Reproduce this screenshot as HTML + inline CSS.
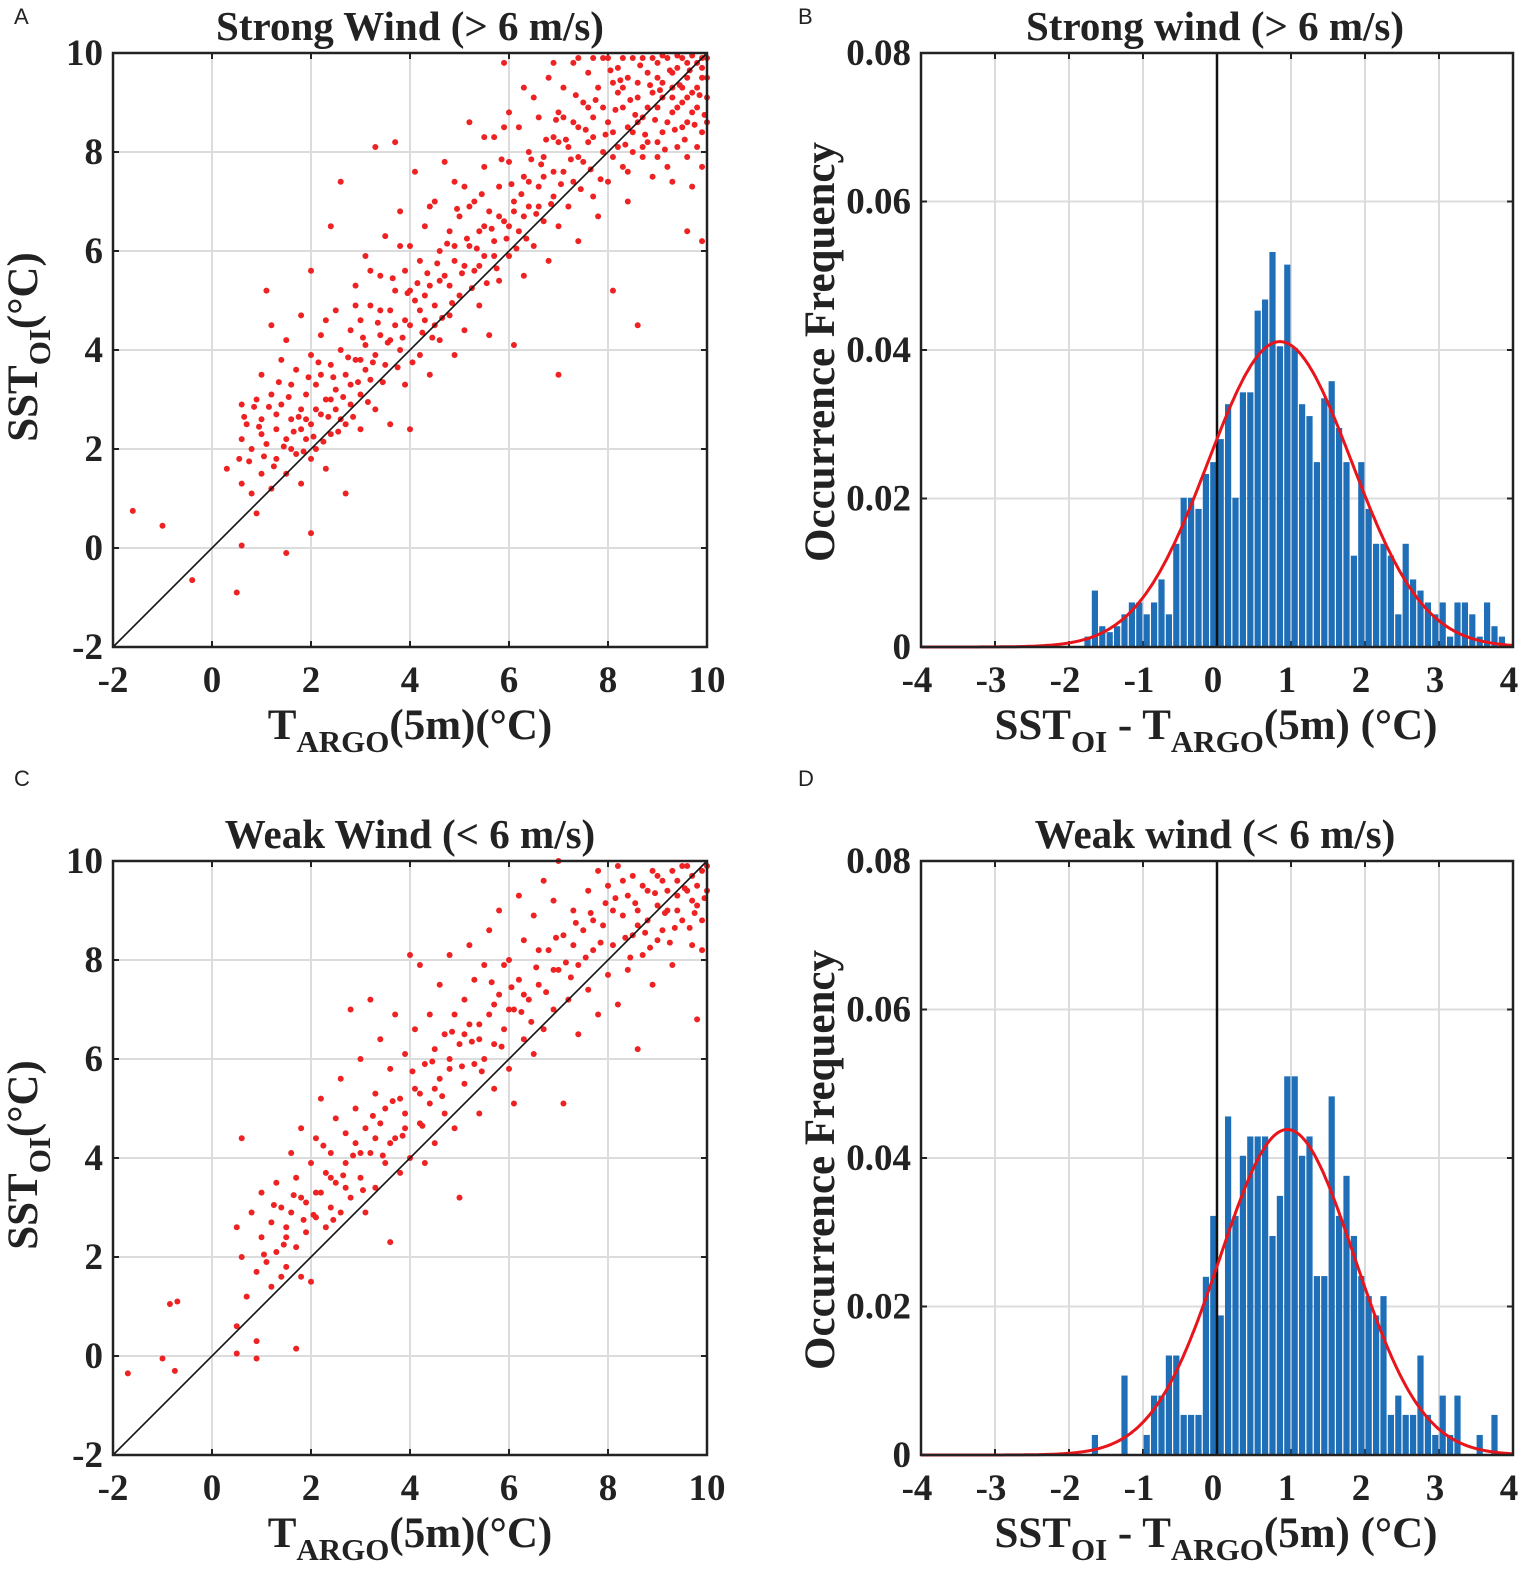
<!DOCTYPE html>
<html><head><meta charset="utf-8"><style>
html,body{margin:0;padding:0;background:#fff;}
svg{display:block;}
text{font-family:"Liberation Serif",serif;font-weight:bold;fill:#222;}
.lt{font-family:"Liberation Sans",sans-serif;font-weight:normal;fill:#222;}
</style></head><body>
<svg id="fig" width="1535" height="1578" viewBox="0 0 1535 1578" xmlns="http://www.w3.org/2000/svg"></svg>
<script>
// ---------- DATA ----------
const scatterTicks = [-2, 0, 2, 4, 6, 8, 10];
const histXTicks = [-4, -3, -2, -1, 0, 1, 2, 3, 4];
const histYTicks = [0, 0.02, 0.04, 0.06, 0.08];
const histYTickLabels = ["0", "0.02", "0.04", "0.06", "0.08"];
const binWidth = 0.1;

const strongPts = "-1.6,0.75 -1,0.45 -0.4,-0.65 0.5,-0.9 0.3,1.6 0.6,0.05 0.6,1.3 0.55,1.8 0.6,2.2 0.6,2.9 0.7,2.5 0.8,1.1 0.8,2.0 0.9,3.0 0.9,0.7 1.0,1.5 1.0,2.6 1.0,3.5 1.1,2.1 1.1,5.2 1.2,1.2 1.2,3.1 1.2,4.5 1.3,2.4 1.3,1.8 1.4,2.9 1.4,3.8 1.5,-0.1 1.5,1.5 1.5,2.2 1.5,4.2 1.6,3.3 1.6,2.6 1.7,1.9 1.7,3.6 1.8,2.8 1.8,4.7 1.8,1.3 1.9,2.2 1.9,3.1 2.0,0.3 2.0,1.8 2.0,2.5 2.0,3.9 2.0,5.6 2.1,3.3 2.1,2.0 2.2,4.3 2.2,2.7 2.3,3.0 2.3,1.6 2.4,3.7 2.4,2.3 2.4,6.5 2.5,4.8 2.5,3.2 2.6,2.6 2.6,4.0 2.6,7.4 2.7,3.5 2.7,1.1 2.8,4.4 2.8,2.9 2.9,3.8 2.9,5.3 3.0,3.1 3.0,4.6 3.0,2.4 3.1,5.9 3.1,4.1 3.2,3.4 3.2,4.9 3.3,8.1 3.3,2.8 3.4,4.3 3.4,5.5 3.5,3.7 3.5,6.3 3.6,4.8 3.6,2.5 3.7,8.2 3.7,5.2 3.8,4.0 3.8,6.8 3.9,3.3 3.9,5.6 4.0,4.5 4.0,6.1 4.0,2.4 4.1,7.6 4.1,5.0 4.2,3.9 4.2,5.8 4.3,4.6 4.3,6.5 4.4,5.3 4.4,3.5 4.5,7.0 4.5,4.9 4.6,6.0 4.6,4.2 4.7,5.5 4.7,7.8 4.8,6.4 4.8,4.7 4.9,5.8 4.9,3.9 5.0,6.7 5.0,5.1 5.1,7.3 5.1,4.4 5.2,6.1 5.2,8.6 5.3,5.6 5.3,7.0 5.4,4.9 5.4,6.4 5.5,7.7 5.5,5.9 5.6,6.8 5.6,4.3 5.7,8.3 5.7,6.2 5.8,7.3 5.8,5.4 5.9,6.6 5.9,9.8 6.0,7.8 6.0,5.9 6.1,7.0 6.1,4.1 6.2,8.5 6.2,6.4 6.3,7.5 6.3,5.5 6.4,8.0 6.4,6.9 6.5,9.1 6.5,6.1 6.6,7.3 6.6,8.7 6.7,6.6 6.7,7.9 6.8,9.5 6.8,5.8 6.9,8.3 6.9,7.1 7.0,8.8 7.0,6.5 7.0,3.5 7.1,7.6 7.1,9.3 7.2,8.1 7.2,6.9 7.3,9.8 7.3,7.4 7.4,8.5 7.4,6.2 7.5,9.0 7.5,7.8 7.6,8.2 7.6,9.6 7.7,7.1 7.7,8.7 7.8,9.3 7.8,6.7 7.9,8.0 7.9,9.9 8.0,8.6 8.0,7.4 8.1,9.4 8.1,5.2 8.2,8.1 8.2,9.7 8.3,7.7 8.3,8.9 8.4,9.5 8.4,7.0 8.5,8.4 8.5,9.9 8.6,4.5 8.6,9.1 8.7,7.9 8.7,8.7 8.8,9.6 8.8,8.2 8.9,9.2 8.9,7.5 9.0,8.9 9.0,9.8 9.1,8.4 9.1,9.4 9.2,7.7 9.2,9.9 9.3,8.8 9.3,9.3 9.4,9.7 9.4,8.1 9.5,9.0 9.5,9.9 9.6,8.6 9.6,9.5 9.7,7.3 9.7,9.2 9.8,9.8 9.8,8.9 9.9,9.5 9.9,8.4 10,9.9 10,9.1 9.6,6.4 9.9,6.2 8.0,9.9 8.3,9.9 8.7,9.9 9.1,9.95 9.4,9.95 9.7,9.95 8.2,9.2 8.6,9.4 9.0,9.5 9.3,9.1 9.6,9.1 9.9,9.7 8.4,8.5 8.8,8.9 9.2,8.6 9.5,8.5 9.8,9.3 7.9,8.9 8.1,8.4 8.5,8.0 9.0,8.2 9.4,8.9 9.7,8.8 10,9.5 7.6,8.9 7.3,8.6 7.0,8.2 6.7,7.5 6.4,7.4 6.1,6.8 5.8,6.7 5.5,6.5 5.2,6.9 4.9,6.1 4.6,5.4 4.3,5.1 4.0,5.2 3.7,4.5 3.4,4.8 3.1,3.6 2.8,3.3 2.5,2.8 2.2,3.5 1.9,2.6 1.6,2.0 1.3,2.7 1.0,2.3 8.9,9.9 9.3,9.6 9.6,9.8 9.9,9.9 8.6,8.6 9.1,9.1 9.5,9.3 8.3,9.3 7.7,8.3 7.4,7.9 7.1,8.7 6.9,7.6 6.6,6.9 6.3,6.7 6.0,6.5 5.7,5.9 5.4,5.7 5.1,5.7 4.8,5.3 4.5,4.5 4.2,4.8 3.9,4.6 3.6,4.2 3.3,3.9 3.0,3.8 2.7,2.5 2.4,3.0 2.1,2.8 1.8,2.4 " +
"8.05,9.65 8.15,8.85 8.25,9.45 8.35,8.15 8.45,9.05 8.55,8.75 8.65,9.75 8.75,8.35 8.85,9.35 8.95,8.65 9.05,9.25 9.15,8.05 9.25,9.65 9.35,8.45 9.45,9.35 9.55,8.25 9.65,9.65 9.75,8.55 9.85,9.15 9.95,8.75 8.1,7.9 8.4,7.6 8.7,8.1 9.0,7.9 9.3,7.4 9.6,7.9 9.9,7.7 10,8.6 9.8,8.1 7.55,8.45 7.65,7.65 7.75,9.05 7.85,7.45 7.95,8.35 7.25,7.85 7.35,9.15 7.45,7.25 7.15,8.25 7.05,7.35 6.95,8.65 6.85,6.95 6.75,8.25 6.65,7.75 6.55,6.75 6.45,7.85 6.35,6.25 6.25,7.15 6.15,6.05 6.05,7.35 5.95,6.25 5.85,7.85 5.75,5.65 5.65,6.45 5.55,5.35 5.45,7.15 5.35,6.05 5.25,5.25 5.15,6.25 5.05,5.55 4.95,6.85 4.85,4.95 4.75,6.15 4.65,4.65 4.55,5.75 4.45,4.25 4.35,5.55 4.25,4.35 4.15,5.35 4.05,3.75 3.95,5.15 3.85,4.25 3.75,3.65 3.65,5.45 3.55,4.15 3.45,3.35 3.35,4.55 3.25,3.75 3.15,2.95 3.05,4.25 2.95,3.35 2.85,2.65 2.75,3.85 2.65,3.05 2.55,2.35 2.45,3.45 2.35,2.65 2.25,2.15 2.15,3.75 2.05,2.25 1.95,3.45 1.85,1.95 1.75,2.65 1.65,2.35 1.55,3.05 1.45,2.05 1.35,3.35 1.25,1.65 1.15,2.85 1.05,1.85 0.95,2.45 0.85,2.85 0.75,1.75 0.65,2.65 5.5,8.3 6.0,8.8 6.3,9.3 6.9,9.8 7.4,9.9 7.7,9.9 4.4,6.9 4.9,7.4 5.9,8.5 3.2,5.6 3.8,6.1 2.9,4.9 2.3,4.6";

const weakPts = "-1.7,-0.35 -1.0,-0.05 -0.85,1.05 -0.7,1.1 -0.75,-0.3 0.5,0.05 0.5,0.6 0.9,-0.05 1.7,0.15 0.6,4.4 0.5,2.6 0.6,2.0 0.7,1.2 0.8,2.9 0.9,1.7 0.9,0.3 1.0,2.4 1.0,3.3 1.1,1.9 1.2,2.7 1.2,1.4 1.3,3.5 1.3,2.1 1.4,1.6 1.4,3.0 1.5,2.4 1.5,1.8 1.6,4.1 1.6,2.9 1.7,2.2 1.7,3.6 1.8,1.6 1.8,4.6 1.9,3.1 1.9,2.5 2.0,3.9 2.0,1.5 2.1,4.4 2.1,2.8 2.2,3.3 2.2,5.2 2.3,3.7 2.3,2.6 2.4,4.1 2.4,3.0 2.5,4.8 2.5,3.5 2.6,2.9 2.6,5.6 2.7,3.9 2.7,4.5 2.8,7.0 2.8,3.2 2.9,4.3 2.9,5.0 3.0,3.6 3.0,6.0 3.1,4.6 3.1,2.9 3.2,7.2 3.2,4.1 3.3,5.3 3.3,3.4 3.4,4.7 3.4,6.4 3.5,3.9 3.5,5.0 3.6,2.3 3.6,5.8 3.7,4.4 3.7,6.9 3.8,3.7 3.8,5.2 3.9,4.6 3.9,6.1 4.0,8.1 4.0,4.0 4.1,5.4 4.1,6.6 4.2,4.7 4.2,7.9 4.3,5.9 4.3,3.9 4.4,5.1 4.4,6.9 4.5,4.3 4.5,6.2 4.6,5.6 4.6,7.5 4.7,4.9 4.7,6.5 4.8,5.8 4.8,8.1 4.9,6.9 4.9,4.6 5.0,3.2 5.0,6.3 5.1,7.2 5.1,5.5 5.2,6.7 5.2,8.3 5.3,5.9 5.3,7.6 5.4,6.4 5.4,4.9 5.5,7.9 5.5,6.0 5.6,6.9 5.6,8.6 5.7,6.3 5.7,5.4 5.8,7.3 5.8,9.0 5.9,6.6 5.9,7.9 6.0,5.8 6.0,8.0 6.1,7.0 6.1,5.1 6.2,7.6 6.2,9.3 6.3,6.4 6.3,8.4 6.4,7.2 6.5,6.1 6.5,8.9 6.6,7.5 6.7,6.6 6.7,9.6 6.8,8.2 6.9,7.0 6.9,9.2 7.0,7.8 7.0,10.0 7.1,5.1 7.1,8.5 7.2,7.2 7.3,9.0 7.4,7.9 7.4,6.5 7.5,8.6 7.6,9.4 7.6,7.4 7.7,8.2 7.8,9.8 7.8,6.9 7.9,8.7 8.0,7.7 8.0,9.5 8.1,8.3 8.2,9.9 8.2,7.1 8.3,8.9 8.4,9.3 8.4,7.8 8.5,8.5 8.5,9.7 8.6,6.2 8.6,9.0 8.7,8.1 8.8,9.4 8.8,8.8 8.9,9.8 8.9,7.5 9.0,9.1 9.1,8.6 9.1,9.6 9.2,9.0 9.3,7.9 9.3,9.8 9.4,9.3 9.5,8.8 9.5,9.9 9.6,9.4 9.7,8.3 9.7,9.7 9.8,9.1 9.8,6.8 9.9,9.8 9.9,8.8 10,9.4 10,9.9 8.3,9.6 8.7,9.5 9.0,9.7 9.2,9.4 9.4,9.6 9.6,9.9 9.8,9.5 8.6,8.7 9.0,8.4 9.4,9.0 9.7,9.2 8.1,9.0 7.7,8.8 7.3,8.3 6.9,7.8 6.6,8.2 6.3,7.3 6.0,7.0 5.7,7.1 5.4,6.7 5.1,6.5 4.8,6.0 4.5,5.4 4.2,5.3 3.9,4.9 3.6,4.3 3.3,4.4 3.0,4.1 2.7,3.4 2.4,3.6 2.1,3.3 1.8,3.2 1.5,2.6 " +
"8.15,9.25 8.35,8.45 8.55,9.15 8.75,8.55 8.95,9.35 9.15,8.95 9.35,8.65 9.55,9.45 9.75,8.95 9.95,9.25 8.45,8.05 8.85,8.25 9.25,8.35 9.65,8.65 9.9,8.2 7.55,8.05 7.65,8.95 7.85,8.35 7.95,9.15 7.25,7.65 7.35,8.75 7.15,7.95 6.95,8.45 6.75,7.35 6.55,7.85 6.45,6.75 6.25,6.95 6.05,7.45 5.85,6.25 5.65,7.55 5.45,5.75 5.25,6.35 5.05,5.85 4.85,6.55 4.65,5.25 4.45,5.95 4.25,4.65 4.05,5.75 3.85,4.45 3.65,5.15 3.45,4.05 3.25,4.85 3.05,3.35 2.85,4.05 2.65,3.65 2.45,2.75 2.25,4.25 2.05,2.85 1.85,2.75 1.65,3.25 1.45,2.25 1.25,3.05 1.05,2.05";

// histogram bin left edges and frequencies
const strongBins = [-1.8,-1.7,-1.6,-1.5,-1.4,-1.3,-1.2,-1.1,-1.0,-0.9,-0.8,-0.7,-0.6,-0.5,-0.4,-0.3,-0.2,-0.1,0.0,0.1,0.2,0.3,0.4,0.5,0.6,0.7,0.8,0.9,1.0,1.1,1.2,1.3,1.4,1.5,1.6,1.7,1.8,1.9,2.0,2.1,2.2,2.3,2.4,2.5,2.6,2.7,2.8,2.9,3.0,3.1,3.2,3.3,3.4,3.5,3.6,3.7,3.8];
const strongFreq = [0.0014,0.0076,0.0028,0.0020,0.0028,0.0044,0.006,0.006,0.0044,0.006,0.0091,0.0044,0.0139,0.0201,0.0201,0.0186,0.0233,0.0249,0.028,0.0327,0.0201,0.0343,0.0343,0.0453,0.0468,0.0532,0.0405,0.0515,0.0403,0.0327,0.0311,0.0249,0.0335,0.0358,0.0295,0.0249,0.0123,0.0249,0.0186,0.0139,0.0139,0.0123,0.0044,0.0139,0.0091,0.0076,0.006,0.0044,0.006,0.0014,0.006,0.006,0.0044,0.0014,0.006,0.0028,0.0014];
const weakBins = [-1.7,-1.3,-1.0,-0.9,-0.8,-0.7,-0.6,-0.5,-0.4,-0.3,-0.2,-0.1,0.0,0.1,0.2,0.3,0.4,0.5,0.6,0.7,0.8,0.9,1.0,1.1,1.2,1.3,1.4,1.5,1.6,1.7,1.8,1.9,2.0,2.1,2.2,2.3,2.4,2.5,2.6,2.7,2.8,2.9,3.0,3.1,3.2,3.5,3.7];
const weakFreq = [0.0027,0.0107,0.0027,0.008,0.008,0.0134,0.0134,0.0054,0.0054,0.0054,0.024,0.0322,0.0188,0.0456,0.0322,0.0403,0.0429,0.0429,0.0429,0.0295,0.0349,0.051,0.051,0.0403,0.0429,0.0241,0.0241,0.0483,0.0322,0.0376,0.0295,0.0241,0.0214,0.0188,0.0214,0.0054,0.008,0.0054,0.0054,0.0134,0.0054,0.0027,0.008,0.0027,0.008,0.0027,0.0054];
const strongFit = [0.85, 0.97]; // mean, sigma
const weakFit = [0.95, 0.91];

// ---------- DRAW ----------
const NS = "http://www.w3.org/2000/svg";
const svg = document.getElementById("fig");
function el(tag, attrs, parent) {
  const e = document.createElementNS(NS, tag);
  for (const k in attrs) e.setAttribute(k, attrs[k]);
  (parent || svg).appendChild(e);
  return e;
}
function parsePts(s) { return s.trim().split(/\s+/).map(p => p.split(",").map(Number)); }
function axisLin(d0, d1, r0, r1) { return v => r0 + (v - d0) / (d1 - d0) * (r1 - r0); }

const TICKFS = 37, TITLEFS = 41, AXFS = 43, SUBFS = 31;

function frame(g, L, T, R, B) {
  const f = el("rect", {x: L, y: T, width: R - L, height: B - T, fill: "none", stroke: "#222", "stroke-width": 2.5}, g);
  
  
}

function scatterPanel(name, L, T, pts, title) {
  const R = L + 594, B = T + 594;
  const g = el("g", {});
  
  
  const sx = axisLin(-2, 10, L, R), sy = axisLin(-2, 10, B, T);
  scatterTicks.forEach(t => {
    const gl = el("line", {x1: sx(t), y1: T, x2: sx(t), y2: B, stroke: "#dcdcdc", "stroke-width": 2}, g);
    
    
    const hl = el("line", {x1: L, y1: sy(t), x2: R, y2: sy(t), stroke: "#dcdcdc", "stroke-width": 2}, g);
    
    
    el("line", {x1: sx(t), y1: B, x2: sx(t), y2: B - 6, stroke: "#222", "stroke-width": 2}, g);
    el("line", {x1: L, y1: sy(t), x2: L + 6, y2: sy(t), stroke: "#222", "stroke-width": 2}, g);
    el("line", {x1: R, y1: sy(t), x2: R - 6, y2: sy(t), stroke: "#222", "stroke-width": 2}, g);
    el("line", {x1: sx(t), y1: T, x2: sx(t), y2: T + 6, stroke: "#222", "stroke-width": 2}, g);
    const xl = el("text", {x: sx(t), y: B + 45, "text-anchor": "middle", "font-size": TICKFS}, g);
    xl.textContent = t;
    
    
    const yl = el("text", {x: L - 10, y: sy(t) + 12, "text-anchor": "end", "font-size": TICKFS}, g);
    yl.textContent = t;
    
    
  });
  pts.forEach(p => {
    const c = el("circle", {cx: sx(p[0]), cy: sy(p[1]), r: 3, fill: "#ee2222"}, g);
    
    
  });
  const dl = el("line", {x1: sx(-2), y1: sy(-2), x2: sx(10), y2: sy(10), stroke: "#111", "stroke-width": 1.6}, g);
  
  
  frame(g, L, T, R, B);
  const tt = el("text", {x: (L + R) / 2, y: T - 13, "text-anchor": "middle", "font-size": TITLEFS}, g);
  tt.textContent = title;
  
  
  const xt = el("text", {x: (L + R) / 2, y: B + 92, "text-anchor": "middle", "font-size": AXFS}, g);
  xt.innerHTML = 'T<tspan font-size="' + SUBFS + '" dy="13">ARGO</tspan><tspan dy="-13">(5m)(°C)</tspan>';
  
  
  const yt = el("text", {x: 0, y: 0, "text-anchor": "middle", "font-size": AXFS, transform: `translate(37,${(T + B) / 2 - 3}) rotate(-90)`}, g);
  yt.innerHTML = 'SST<tspan font-size="' + SUBFS + '" dy="13">OI</tspan><tspan dy="-13">(°C)</tspan>';
  
  
}

function histPanel(name, L, T, bins, freq, fit, title) {
  const R = L + 592, B = T + 594;
  const g = el("g", {});
  
  
  const sx = axisLin(-4, 4, L, R), sy = axisLin(0, 0.08, B, T);
  histXTicks.forEach(t => {
    const gl = el("line", {x1: sx(t), y1: T, x2: sx(t), y2: B, stroke: "#dcdcdc", "stroke-width": 2}, g);
    
    
    el("line", {x1: sx(t), y1: B, x2: sx(t), y2: B - 6, stroke: "#222", "stroke-width": 2}, g);
    el("line", {x1: sx(t), y1: T, x2: sx(t), y2: T + 6, stroke: "#222", "stroke-width": 2}, g);
    const xl = el("text", {x: sx(t) - 4, y: B + 45, "text-anchor": "middle", "font-size": TICKFS}, g);
    xl.textContent = t;
    
    
  });
  histYTicks.forEach((t, i) => {
    const hl = el("line", {x1: L, y1: sy(t), x2: R, y2: sy(t), stroke: "#dcdcdc", "stroke-width": 2}, g);
    
    
    el("line", {x1: L, y1: sy(t), x2: L + 6, y2: sy(t), stroke: "#222", "stroke-width": 2}, g);
    el("line", {x1: R, y1: sy(t), x2: R - 6, y2: sy(t), stroke: "#222", "stroke-width": 2}, g);
    const yl = el("text", {x: L - 10, y: sy(t) + 12, "text-anchor": "end", "font-size": TICKFS}, g);
    yl.textContent = histYTickLabels[i];
    
    
  });
  bins.forEach((b, i) => {
    const x0 = sx(b), x1 = sx(b + binWidth);
    const r = el("rect", {x: x0 + 0.6, y: sy(freq[i]), width: x1 - x0 - 1.2, height: sy(0) - sy(freq[i]), fill: "#1f6fb8"}, g);
    
    
  });
  const zl = el("line", {x1: sx(0), y1: T, x2: sx(0), y2: B, stroke: "#111", "stroke-width": 2.5}, g);
  
  
  let d = "";
  for (let i = 0; i <= 400; i++) {
    const x = -4 + 8 * i / 400;
    const y = binWidth / (fit[1] * Math.sqrt(2 * Math.PI)) * Math.exp(-0.5 * Math.pow((x - fit[0]) / fit[1], 2));
    d += (i ? "L" : "M") + sx(x).toFixed(1) + "," + sy(y).toFixed(1);
  }
  const cv = el("path", {d: d, fill: "none", stroke: "#e8151b", "stroke-width": 3}, g);
  
  
  frame(g, L, T, R, B);
  const tt = el("text", {x: (L + R) / 2 - 2, y: T - 13, "text-anchor": "middle", "font-size": TITLEFS}, g);
  tt.textContent = title;
  
  
  const xt = el("text", {x: (L + R) / 2 - 1, y: B + 92, "text-anchor": "middle", "font-size": AXFS}, g);
  xt.innerHTML = 'SST<tspan font-size="' + SUBFS + '" dy="13">OI</tspan><tspan dy="-13"> - T</tspan><tspan font-size="' + SUBFS + '" dy="13">ARGO</tspan><tspan dy="-13">(5m) (°C)</tspan>';
  
  
  const yt = el("text", {x: 0, y: 0, "text-anchor": "middle", "font-size": AXFS, transform: `translate(834,${(T + B) / 2 + 2}) rotate(-90)`}, g);
  yt.textContent = "Occurrence Frequency";
  
  
}

scatterPanel("panel-a-strong-scatter", 113, 53, parsePts(strongPts), "Strong Wind (> 6 m/s)");
histPanel("panel-b-strong-histogram", 921, 53, strongBins, strongFreq, strongFit, "Strong wind (> 6 m/s)");
scatterPanel("panel-c-weak-scatter", 113, 861, parsePts(weakPts), "Weak Wind (< 6 m/s)");
histPanel("panel-d-weak-histogram", 921, 861, weakBins, weakFreq, weakFit, "Weak wind (< 6 m/s)");

[["A", 14, 24], ["B", 798, 24], ["C", 14, 786], ["D", 798, 786]].forEach(p => {
  const t = el("text", {x: p[1], y: p[2], "font-size": 22, class: "lt"});
  t.textContent = p[0];
  
  
});
</script>
</body></html>
